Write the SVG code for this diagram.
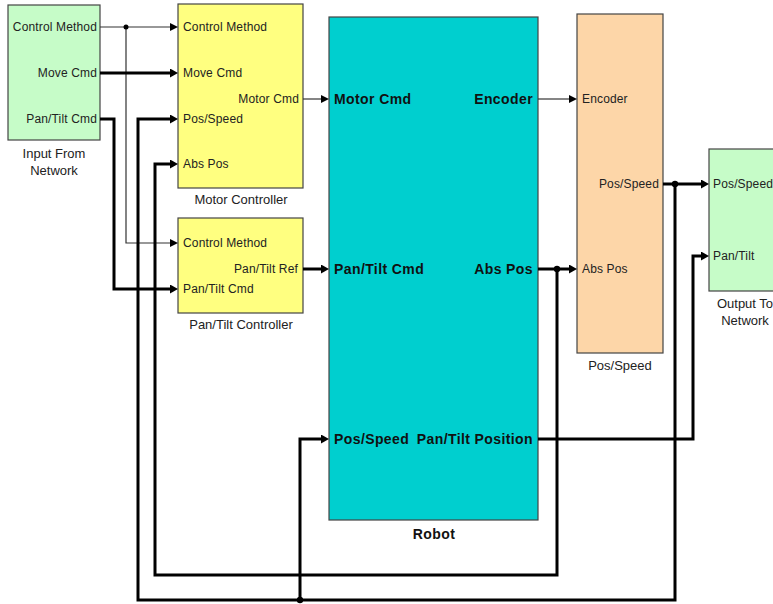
<svg xmlns="http://www.w3.org/2000/svg" width="773" height="604" viewBox="0 0 773 604">
<style>
.box{stroke:#444;stroke-width:1.2}
.lbl{font-family:"Liberation Sans",Arial,sans-serif;font-size:12px;fill:#222;letter-spacing:0.15px}
.cap{font-family:"Liberation Sans",Arial,sans-serif;font-size:13px;fill:#222;text-anchor:middle}
.bl{font-family:"Liberation Sans",Arial,sans-serif;font-size:14px;font-weight:bold;fill:#111;letter-spacing:0.4px}
.r{text-anchor:end}
.thin{fill:none;stroke:#333;stroke-width:1.2}
.thick{fill:none;stroke:#000;stroke-width:3}
.dot{fill:#000}
</style>
<defs>
<marker id="at" markerUnits="userSpaceOnUse" markerWidth="9" markerHeight="9" refX="0" refY="4" orient="auto"><path d="M0,0 L8,4 L0,8 z" fill="#000"/></marker>
<marker id="ak" markerUnits="userSpaceOnUse" markerWidth="10" markerHeight="10" refX="0" refY="4.5" orient="auto"><path d="M0,0 L8,4.5 L0,9 z" fill="#000"/></marker>
</defs>
<rect width="773" height="604" fill="#fff"/>

<g id="input">
<rect class="box" x="8" y="5" width="92" height="135" fill="#c6fcc8"/>
<text class="lbl r" x="97" y="31">Control Method</text>
<text class="lbl r" x="97" y="77">Move Cmd</text>
<text class="lbl r" x="97" y="123">Pan/Tilt Cmd</text>
<text class="cap" x="54" y="158">Input From</text>
<text class="cap" x="54" y="175">Network</text>
</g>

<g id="motor-controller">
<rect class="box" x="178" y="4" width="125" height="184" fill="#ffff80"/>
<text class="lbl" x="183" y="31">Control Method</text>
<text class="lbl" x="183" y="77">Move Cmd</text>
<text class="lbl" x="183" y="123">Pos/Speed</text>
<text class="lbl" x="183" y="168">Abs Pos</text>
<text class="lbl r" x="299" y="103">Motor Cmd</text>
<text class="cap" x="241" y="204">Motor Controller</text>
</g>

<g id="pantilt-controller">
<rect class="box" x="178" y="218" width="125" height="95" fill="#ffff80"/>
<text class="lbl" x="183" y="247">Control Method</text>
<text class="lbl" x="183" y="293">Pan/Tilt Cmd</text>
<text class="lbl r" x="298" y="273">Pan/Tilt Ref</text>
<text class="cap" x="241" y="329">Pan/Tilt Controller</text>
</g>

<g id="robot">
<rect class="box" x="329" y="17" width="209" height="503" fill="#00cfcf"/>
<text class="bl" x="334" y="104">Motor Cmd</text>
<text class="bl r" x="533" y="104">Encoder</text>
<text class="bl" x="334" y="274">Pan/Tilt Cmd</text>
<text class="bl r" x="533" y="274">Abs Pos</text>
<text class="bl" x="334" y="444">Pos/Speed</text>
<text class="bl r" x="533" y="444">Pan/Tilt Position</text>
<text class="bl" x="434" y="539" text-anchor="middle" font-size="15" letter-spacing="0">Robot</text>
</g>

<g id="pos-speed">
<rect class="box" x="577" y="14" width="86" height="339" fill="#fdd6a8"/>
<text class="lbl" x="582" y="103">Encoder</text>
<text class="lbl r" x="659" y="188">Pos/Speed</text>
<text class="lbl" x="582" y="273">Abs Pos</text>
<text class="cap" x="620" y="370">Pos/Speed</text>
</g>

<g id="output">
<rect class="box" x="709" y="149" width="72" height="142" fill="#c6fcc8"/>
<text class="lbl" x="713" y="188">Pos/Speed</text>
<text class="lbl" x="713" y="260">Pan/Tilt</text>
<text class="cap" x="745" y="308">Output To</text>
<text class="cap" x="745" y="325">Network</text>
</g>

<g id="connectors">
<path class="thin" d="M100,27 H170" marker-end="url(#at)"/>
<path class="thin" d="M126,27 V243 H170" marker-end="url(#at)"/>
<path class="thin" d="M303,99 H321" marker-end="url(#at)"/>
<path class="thin" d="M538,99 H569" marker-end="url(#at)"/>
<path class="thick" d="M100,73 H170" marker-end="url(#ak)"/>
<path class="thick" d="M100,119 H114 V289 H170" marker-end="url(#ak)"/>
<path class="thick" d="M675,184 V600 H138 V119 H170" marker-end="url(#ak)"/>
<path class="thick" d="M300,600 V439 H321" marker-end="url(#ak)"/>
<path class="thick" d="M557,269 V575 H155 V164 H170" marker-end="url(#ak)"/>
<path class="thick" d="M303,269 H321" marker-end="url(#ak)"/>
<path class="thick" d="M538,269 H569" marker-end="url(#ak)"/>
<path class="thick" d="M663,184 H701" marker-end="url(#ak)"/>
<path class="thick" d="M538,439 H693 V256 H701" marker-end="url(#ak)"/>
<circle class="dot" cx="126" cy="27" r="2.5"/>
<circle class="dot" cx="557" cy="269" r="3.2"/>
<circle class="dot" cx="675" cy="184" r="3.2"/>
<circle class="dot" cx="300" cy="600" r="3.2"/>
</g>
</svg>
